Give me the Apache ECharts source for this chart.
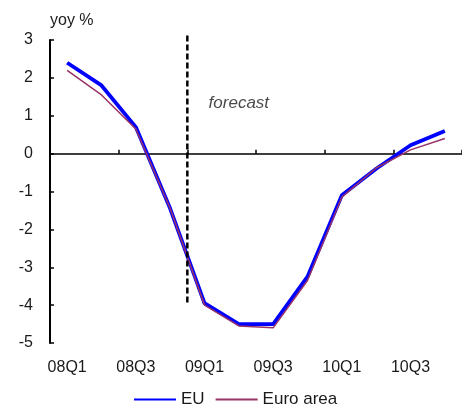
<!DOCTYPE html>
<html>
<head>
<meta charset="utf-8">
<script src="https://cdn.jsdelivr.net/npm/echarts@6/dist/echarts.min.js"></script>
<style>
html,body{margin:0;padding:0;background:#fff;}
#c{width:462px;height:405px;}
</style>
</head>
<body>
<div id="c"></div>
<script>
var quarters = ['08Q1','08Q2','08Q3','08Q4','09Q1','09Q2','09Q3','09Q4','10Q1','10Q2','10Q3','10Q4'];
var euValues = [2.4, 1.8, 0.7, -1.45, -3.95, -4.5, -4.5, -3.25, -1.1, -0.4, 0.22, 0.6];
var euroAreaValues = [2.2, 1.55, 0.65, -1.45, -4.0, -4.55, -4.6, -3.35, -1.15, -0.38, 0.1, 0.4];
var forecastStart = 4;          // boundary between 08Q4 and 09Q1 (in quarters)
var forecastLineTop = 3.12;
var forecastLineBottom = -3.95;
var forecastLabel = 'forecast';
var forecastLabelPos = [4.62, 1.33];

var chart = echarts.init(document.getElementById('c'), null, {renderer:'canvas'});
var font = 'Liberation Sans, Arial, sans-serif';
var txt = '#1a1a1a';
chart.setOption({
  animation: false,
  backgroundColor: '#ffffff',
  textStyle: {fontFamily: font},
  grid: {left: 50, top: 40, width: 415, height: 303},
  legend: {
    left: 128, top: 386, itemGap: 10, itemWidth: 42, itemHeight: 2,
    textStyle: {fontSize: 17, color: txt, fontFamily: font},
    itemStyle: {opacity: 0},
    data: ['EU', 'Euro area']
  },
  xAxis: [
    {type: 'category', data: quarters, position: 'bottom',
     axisLine: {show: false, onZero: false}, axisTick: {show: false},
     axisLabel: {interval: 1, margin: 17, fontSize: 16, color: txt, fontFamily: font},
     splitLine: {show: false}},
    {type: 'category', data: quarters, position: 'bottom',
     axisLine: {show: true, onZero: true, lineStyle: {color: '#000', width: 1.5}},
     axisTick: {show: true, inside: true, interval: 1, length: 4, lineStyle: {color: '#000', width: 1.5}},
     axisLabel: {show: false}, splitLine: {show: false}},
    {type: 'value', min: 0, max: 12, show: false}
  ],
  yAxis: {
    type: 'value', min: -5, max: 3, interval: 1,
    name: 'yoy %', nameLocation: 'end', nameGap: 11,
    nameTextStyle: {fontSize: 16, color: txt, align: 'left', fontFamily: font},
    axisLine: {show: true, lineStyle: {color: '#000', width: 2}},
    axisTick: {show: true, inside: true, length: 4, lineStyle: {color: '#000', width: 1.5}},
    axisLabel: {margin: 17, fontSize: 16, color: txt, fontFamily: font},
    splitLine: {show: false}
  },
  series: [
    {name: 'Euro area', type: 'line', xAxisIndex: 0, data: euroAreaValues, symbol: 'none',
     lineStyle: {color: '#993366', width: 1.5}, itemStyle: {color: '#993366'}, z: 3},
    {name: 'EU', type: 'line', xAxisIndex: 0, data: euValues, symbol: 'none',
     lineStyle: {color: '#0000ff', width: 3.8}, itemStyle: {color: '#0000ff'}, z: 2},
    {name: 'forecastLine', type: 'line', xAxisIndex: 2, symbol: 'none', clip: false,
     data: [[forecastStart, forecastLineTop], [forecastStart, forecastLineBottom]],
     lineStyle: {color: '#000', width: 2.5, type: [6, 3]}, z: 4},
    {name: 'forecastText', type: 'scatter', xAxisIndex: 2, symbolSize: 0,
     data: [forecastLabelPos],
     label: {show: true, position: 'right', distance: 0, formatter: forecastLabel,
             fontSize: 17, fontStyle: 'italic', color: txt, fontFamily: font}}
  ]
});
</script>
</body>
</html>
